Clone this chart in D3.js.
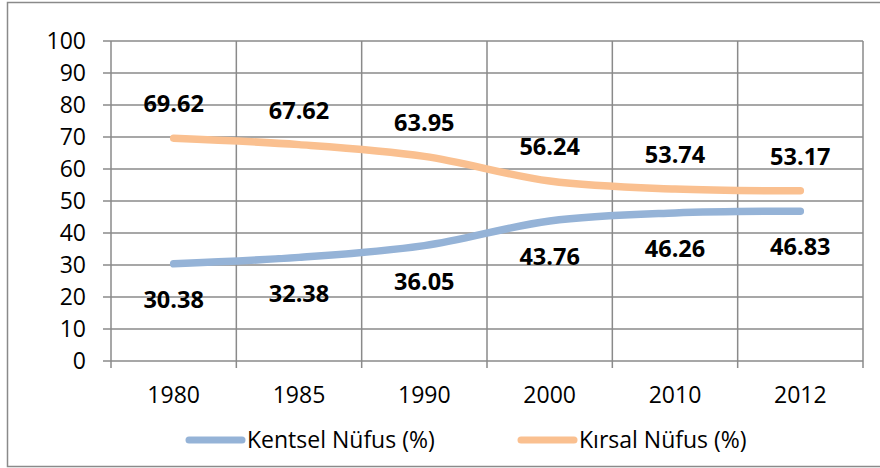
<!DOCTYPE html>
<html>
<head>
<meta charset="utf-8">
<script src="https://cdn.jsdelivr.net/npm/d3@7"></script>
<style>
  body { margin: 0; background: #fff; }
  svg text { font-family: "Open Sans", "Liberation Sans", sans-serif; fill: #000; }
</style>
</head>
<body>
<div id="chart"></div>
<script>
// chart data
const years = ["1980", "1985", "1990", "2000", "2010", "2012"];
const kentsel = [30.38, 32.38, 36.05, 43.76, 46.26, 46.83];
const kirsal = [69.62, 67.62, 63.95, 56.24, 53.74, 53.17];
const yTicks = [0, 10, 20, 30, 40, 50, 60, 70, 80, 90, 100];
const seriesNames = ["Kentsel Nüfus (%)", "Kırsal Nüfus (%)"];

const width = 880, height = 468;
const margin = {top: 41, right: 17, bottom: 107, left: 111};
const gridColor = "#8a8a8a";

const svg = d3.select("#chart").append("svg")
    .attr("width", width)
    .attr("height", height);

// outer chart border
svg.append("rect")
    .attr("x", 7.5).attr("y", 2.5)
    .attr("width", width + 10).attr("height", 464)
    .attr("fill", "none")
    .attr("stroke", gridColor)
    .attr("stroke-width", 1.5);

let x = d3.scaleBand()
    .domain(years)
    .range([margin.left, width - margin.right]);

let y = d3.scaleLinear()
    .domain([0, 100])
    .range([height - margin.bottom, margin.top]);

// horizontal gridlines + y ticks
svg.append("g")
    .selectAll("line")
    .data(yTicks)
    .join("line")
    .attr("x1", margin.left - 8)
    .attr("x2", width - margin.right)
    .attr("y1", d => y(d))
    .attr("y2", d => y(d))
    .attr("stroke", gridColor)
    .attr("stroke-width", 1.5);

// vertical gridlines at category boundaries
let bounds = years.map(d => x(d)).concat([x.range()[1]]);
svg.append("g")
    .selectAll("line")
    .data(bounds)
    .join("line")
    .attr("x1", d => d)
    .attr("x2", d => d)
    .attr("y1", margin.top)
    .attr("y2", y(0) + 7)
    .attr("stroke", gridColor)
    .attr("stroke-width", 1.5);

// y labels
svg.append("g")
    .selectAll("text")
    .data(yTicks)
    .join("text")
    .attr("x", 86)
    .attr("y", d => y(d))
    .attr("dy", "0.35em")
    .attr("text-anchor", "end")
    .style("font-size", "23px")
    .text(d => d);

// x labels
svg.append("g")
    .selectAll("text")
    .data(years)
    .join("text")
    .attr("x", d => x(d) + x.bandwidth() / 2)
    .attr("y", 403)
    .attr("text-anchor", "middle")
    .style("font-size", "23px")
    .text(d => d);

const colors = ["#95b3d7", "#fac090"];
const line = d3.line()
    .x((d, i) => x(years[i]) + x.bandwidth() / 2)
    .y(d => y(d))
    .curve(d3.curveCatmullRom.alpha(0.5));

[kentsel, kirsal].forEach((vals, s) => {
    svg.append("path")
        .datum(vals)
        .attr("d", line)
        .attr("fill", "none")
        .attr("stroke", colors[s])
        .attr("stroke-width", 7.5)
        .attr("stroke-linecap", "round")
        .attr("stroke-linejoin", "round");
});

// data labels: urban below, rural above
function labels(vals, off) {
    svg.append("g")
        .selectAll("text")
        .data(vals)
        .join("text")
        .attr("x", (d, i) => x(years[i]) + x.bandwidth() / 2)
        .attr("y", d => y(d) + off)
        .attr("dy", "0.35em")
        .attr("text-anchor", "middle")
        .style("font-size", "23.5px")
        .style("font-weight", "bold")
        .text(d => d.toFixed(2));
}
labels(kentsel, 36);
labels(kirsal, -34);

// legend
const legendX = [186, 518];
seriesNames.forEach((name, s) => {
    let g = svg.append("g").attr("transform", `translate(${legendX[s]},440)`);
    g.append("line")
        .attr("x1", 3).attr("x2", 56)
        .attr("stroke", colors[s])
        .attr("stroke-width", 7)
        .attr("stroke-linecap", "round");
    g.append("text")
        .attr("x", 61)
        .attr("dy", "0.35em")
        .style("font-size", "23px")
        .text(name);
});
</script>
</body>
</html>
